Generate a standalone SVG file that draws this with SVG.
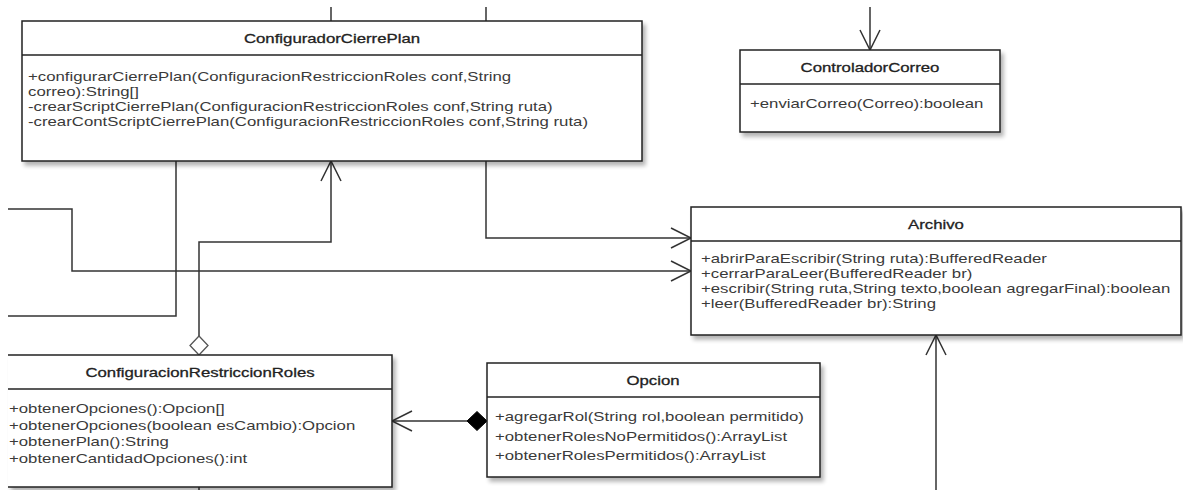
<svg xmlns="http://www.w3.org/2000/svg" width="1183" height="490" viewBox="0 0 1183 490">
<defs>
<filter id="sh" x="-5%" y="-5%" width="115%" height="125%">
<feGaussianBlur in="SourceAlpha" stdDeviation="2"/>
<feOffset dx="3" dy="4" result="b"/>
<feComponentTransfer><feFuncA type="linear" slope="0.3"/></feComponentTransfer>
<feMerge><feMergeNode/><feMergeNode in="SourceGraphic"/></feMerge>
</filter>
<marker id="open" viewBox="0 0 24 24" refX="22" refY="12" markerWidth="24" markerHeight="24" markerUnits="userSpaceOnUse" orient="auto">
<path d="M2,2 L22,12 L2,22" fill="none" stroke="#333" stroke-width="1.5"/>
</marker>
</defs>
<style>
.box{fill:#fff;stroke:#222;stroke-width:1.5}
.div{stroke:#222;stroke-width:1.5;fill:none}
.t{font-family:"Liberation Sans",Arial,sans-serif;font-size:13px;fill:#3a3a3a}
.title{text-anchor:middle;fill:#222;stroke:#222;stroke-width:0.3}
.c{fill:none;stroke:#333;stroke-width:1.5}
</style>
<g id="connectors">
<path class="c" d="M331,7 V21"/>
<path class="c" d="M486,7 V21"/>
<path class="c" d="M870,7 V50" marker-end="url(#open)"/>
<path class="c" d="M176,161 V316 H8"/>
<path class="c" d="M199,336 V242 H331 V161" marker-end="url(#open)"/>
<path class="c" d="M486,161 V238 H691" marker-end="url(#open)"/>
<path class="c" d="M8,209 H72 V271 H691" marker-end="url(#open)"/>
<path class="c" d="M936,490 V335" marker-end="url(#open)"/>
<path class="c" d="M467,421 H392" marker-end="url(#open)"/>
<path class="c" d="M199,487 V490"/>
<path d="M199,336 L208,345.5 L199,355 L190,345.5 Z" fill="#fff" stroke="#555" stroke-width="1.3"/>
<path d="M487,421 L477,411.5 L467,421 L477,430.5 Z" fill="#000" stroke="#000" stroke-width="1"/>
</g>
<g id="ConfiguradorCierrePlan">
<rect class="box" x="22" y="21" width="620" height="140" filter="url(#sh)"/>
<path class="div" d="M22,55 H642"/>
<text class="t title" transform="translate(332,42.5) scale(1.29,1)">ConfiguradorCierrePlan</text>
<text class="t" transform="translate(28,81) scale(1.29,1)">+configurarCierrePlan(ConfiguracionRestriccionRoles conf,String</text>
<text class="t" transform="translate(28,96) scale(1.29,1)">correo):String[]</text>
<text class="t" transform="translate(28,111) scale(1.29,1)">-crearScriptCierrePlan(ConfiguracionRestriccionRoles conf,String ruta)</text>
<text class="t" transform="translate(28,126) scale(1.29,1)">-crearContScriptCierrePlan(ConfiguracionRestriccionRoles conf,String ruta)</text>
</g>
<g id="ControladorCorreo">
<rect class="box" x="740" y="50" width="260" height="82" filter="url(#sh)"/>
<path class="div" d="M740,84 H1000"/>
<text class="t title" transform="translate(870,71.5) scale(1.29,1)">ControladorCorreo</text>
<text class="t" transform="translate(750,108) scale(1.29,1)">+enviarCorreo(Correo):boolean</text>
</g>
<g id="Archivo">
<rect class="box" x="691" y="207" width="490" height="128" filter="url(#sh)"/>
<path class="div" d="M691,241 H1181"/>
<text class="t title" transform="translate(936,228.5) scale(1.29,1)">Archivo</text>
<text class="t" transform="translate(701,263) scale(1.29,1)">+abrirParaEscribir(String ruta):BufferedReader</text>
<text class="t" transform="translate(701,278) scale(1.29,1)">+cerrarParaLeer(BufferedReader br)</text>
<text class="t" transform="translate(701,293) scale(1.29,1)">+escribir(String ruta,String texto,boolean agregarFinal):boolean</text>
<text class="t" transform="translate(701,308) scale(1.29,1)">+leer(BufferedReader br):String</text>
</g>
<g id="ConfiguracionRestriccionRoles">
<path class="box" d="M8,355 H392 V487 H8" filter="url(#sh)"/>
<path class="div" d="M8,389 H392"/>
<text class="t title" transform="translate(200,376.5) scale(1.29,1)">ConfiguracionRestriccionRoles</text>
<text class="t" transform="translate(9,413) scale(1.29,1)">+obtenerOpciones():Opcion[]</text>
<text class="t" transform="translate(9,430) scale(1.29,1)">+obtenerOpciones(boolean esCambio):Opcion</text>
<text class="t" transform="translate(9,446) scale(1.29,1)">+obtenerPlan():String</text>
<text class="t" transform="translate(9,462.5) scale(1.29,1)">+obtenerCantidadOpciones():int</text>
</g>
<g id="Opcion">
<rect class="box" x="487" y="363" width="333" height="114" filter="url(#sh)"/>
<path class="div" d="M487,397 H820"/>
<text class="t title" transform="translate(653,384.5) scale(1.29,1)">Opcion</text>
<text class="t" transform="translate(495,421) scale(1.29,1)">+agregarRol(String rol,boolean permitido)</text>
<text class="t" transform="translate(495,440.5) scale(1.29,1)">+obtenerRolesNoPermitidos():ArrayList</text>
<text class="t" transform="translate(495,460) scale(1.29,1)">+obtenerRolesPermitidos():ArrayList</text>
</g>
</svg>
